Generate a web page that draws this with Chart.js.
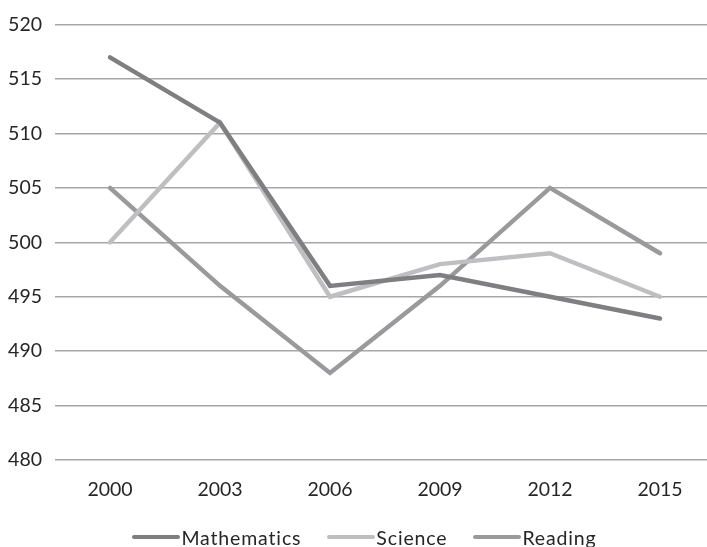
<!DOCTYPE html>
<html>
<head>
<meta charset="utf-8">
<script src="https://cdn.jsdelivr.net/npm/chart.js@4/dist/chart.umd.min.js"></script>
<style>
  html, body { margin: 0; padding: 0; background: #fff; overflow: hidden; }
  #wrap { position: relative; width: 715px; height: 547px; }
  #legend {
    position: absolute; left: 11px; width: 707px; top: 524px; height: 26px;
    display: flex; justify-content: center; align-items: center;
    font-family: Lato, "Open Sans", sans-serif; font-size: 19.5px; color: #262626;
    letter-spacing: 0.85px; white-space: nowrap;
  }
  .item { display: flex; align-items: center; margin: 0 13px; }
  .swatch { width: 48px; height: 4.5px; border-radius: 2.5px; margin-right: 1px; }
</style>
</head>
<body>
<div id="wrap">
  <canvas id="c" width="715" height="547"></canvas>
  <div id="legend"></div>
</div>
<script>
// PISA mean scores by survey year
const years = ['2000', '2003', '2006', '2009', '2012', '2015'];
const mathematics = [517, 511, 496, 497, 495, 493];
const science = [500, 511, 495, 498, 499, 495];
const reading = [505, 496, 488, 496, 505, 499];

const FONT = 'Lato, "Open Sans", sans-serif';

function series(label, data, color) {
  return {
    label, data,
    borderColor: color,
    backgroundColor: color,
    borderWidth: 4.5,
    borderCapStyle: 'round',
    borderJoinStyle: 'miter',
    pointRadius: 0,
    pointHoverRadius: 0,
    tension: 0
  };
}

const chart = new Chart(document.getElementById('c'), {
  type: 'line',
  data: {
    labels: years,
    datasets: [
      series('Mathematics', mathematics, '#7f7f81'),
      series('Science', science, '#bfbfc1'),
      series('Reading', reading, '#9a9a9c')
    ]
  },
  options: {
    responsive: false,
    animation: false,
    layout: { padding: { top: 24, right: 0, left: 0, bottom: 0 } },
    plugins: {
      tooltip: { enabled: false },
      legend: { display: false }
    },
    scales: {
      x: {
        offset: true,
        grid: { display: false, drawTicks: false },
        border: { display: false },
        ticks: { color: '#262626', padding: 18, font: { family: FONT, size: 19.5 }, maxRotation: 0 },
        afterFit(scale) { scale.height = 87; }
      },
      y: {
        min: 480, max: 520,
        grid: { color: '#a6a6a6', lineWidth: 1.5, drawTicks: false },
        border: { display: false },
        ticks: { stepSize: 5, color: '#262626', padding: 13, font: { family: FONT, size: 19.5 } },
        afterFit(scale) { scale.width = 55; }
      }
    }
  }
});

// Legend row built from the chart's datasets
const legend = document.getElementById('legend');
chart.data.datasets.forEach(ds => {
  const item = document.createElement('div');
  item.className = 'item';
  const sw = document.createElement('span');
  sw.className = 'swatch';
  sw.style.background = ds.borderColor;
  const txt = document.createElement('span');
  txt.textContent = ds.label;
  item.appendChild(sw);
  item.appendChild(txt);
  legend.appendChild(item);
});
</script>
</body>
</html>
